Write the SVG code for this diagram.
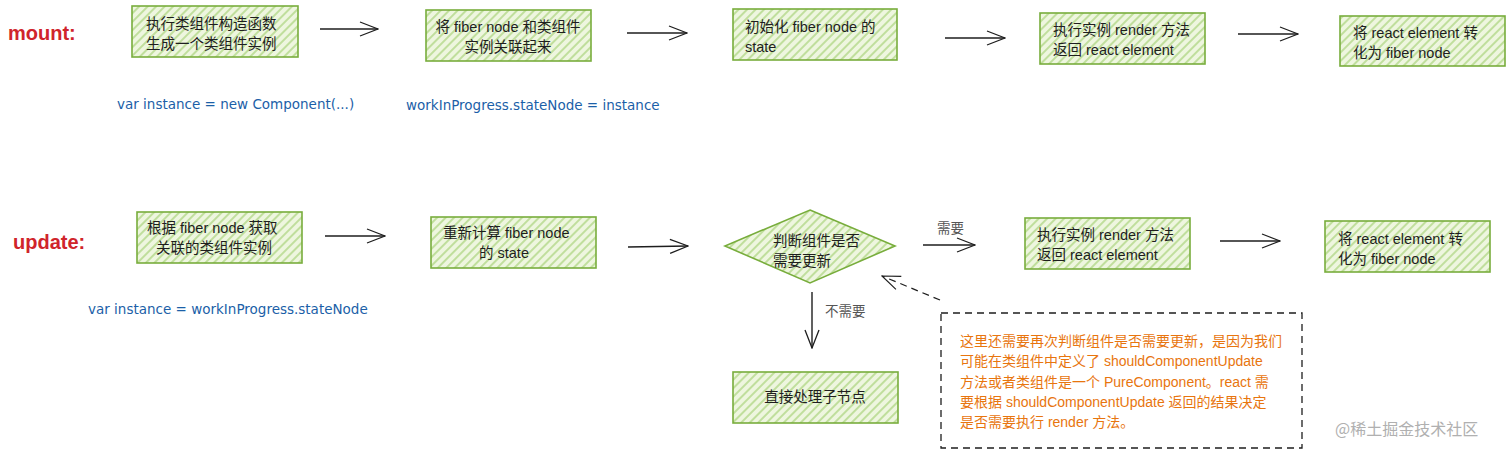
<svg xmlns="http://www.w3.org/2000/svg" width="1512" height="456" viewBox="0 0 1512 456">
<defs>
<pattern id="hatch" patternUnits="userSpaceOnUse" width="6" height="6" patternTransform="rotate(45)">
<rect width="6" height="6" fill="#eef6df"/>
<line x1="1" y1="0" x2="1" y2="6" stroke="#b5d98c" stroke-width="1.6"/>
</pattern>
<marker id="arr" viewBox="0 0 20 20" refX="19" refY="10" markerWidth="20" markerHeight="20" markerUnits="userSpaceOnUse" orient="auto">
<path d="M1 3 L19 10 L1 17" fill="none" stroke="#1e1e1e" stroke-width="1.3"/>
</marker>
<marker id="arrd" viewBox="0 0 20 20" refX="19" refY="10" markerWidth="20" markerHeight="20" markerUnits="userSpaceOnUse" orient="auto">
<path d="M1 3 L19 10 L1 17" fill="none" stroke="#1e1e1e" stroke-width="1.1"/>
</marker>
</defs>
<style>
.box{fill:url(#hatch);stroke:#78ad3c;stroke-width:1.6}
.t{font-family:"Liberation Sans","Noto Sans CJK SC",sans-serif;font-size:14.5px;fill:#1e1e1e}
.tc{text-anchor:middle}
.code{font-family:"DejaVu Sans","Noto Sans CJK SC",sans-serif;font-size:13.5px;fill:#1c5fa8}
.lab{font-family:"Liberation Sans","Noto Sans CJK SC",sans-serif;font-size:20px;fill:#d0242b;font-weight:bold}
.g{font-family:"Liberation Sans","Noto Sans CJK SC",sans-serif;font-size:13.5px;fill:#555}
.note{font-family:"Liberation Sans","Noto Sans CJK SC",sans-serif;font-size:14px;fill:#e8750e}
.conn{stroke:#1e1e1e;stroke-width:1.4;fill:none;marker-end:url(#arr)}
</style>
<rect width="1512" height="456" fill="#ffffff"/>

<text class="lab" x="8" y="40">mount:</text>
<text class="lab" x="13" y="249">update:</text>

<g id="n1"><rect class="box" x="132" y="6" width="166" height="51"/>
<text class="t" x="146" y="29">执行类组件构造函数</text><text class="t" x="146" y="49">生成一个类组件实例</text></g>
<g id="n2"><rect class="box" x="426" y="10" width="165" height="51"/>
<text class="t tc" x="508" y="32">将 fiber node 和类组件</text><text class="t tc" x="508" y="52">实例关联起来</text></g>
<g id="n3"><rect class="box" x="733" y="9" width="164" height="51"/>
<text class="t" x="745" y="32">初始化 fiber node 的</text><text class="t" x="745" y="52">state</text></g>
<g id="n4"><rect class="box" x="1040" y="13" width="165" height="51"/>
<text class="t" x="1053" y="35">执行实例 render 方法</text><text class="t" x="1053" y="55">返回 react element</text></g>
<g id="n5"><rect class="box" x="1340" y="16" width="165" height="50"/>
<text class="t" x="1353" y="38">将 react element 转</text><text class="t" x="1353" y="58">化为 fiber node</text></g>

<text class="code" x="117" y="109">var instance = new Component(...)</text>
<text class="code" x="406" y="110">workInProgress.stateNode = instance</text>
<text class="code" x="88" y="314">var instance = workInProgress.stateNode</text>

<g id="n6"><rect class="box" x="137" y="212" width="165" height="51"/>
<text class="t" x="147" y="233">根据 fiber node 获取</text><text class="t" x="156" y="253">关联的类组件实例</text></g>
<g id="n7"><rect class="box" x="431" y="217" width="165" height="51"/>
<text class="t" x="443" y="238">重新计算 fiber node</text><text class="t" x="479" y="258">的 state</text></g>
<g id="n8"><polygon class="box" points="810,210 895,246 810,283 725,246"/>
<text class="t" x="773" y="246">判断组件是否</text><text class="t" x="773" y="266">需要更新</text></g>
<g id="n9"><rect class="box" x="1025" y="218" width="165" height="51"/>
<text class="t" x="1037" y="240">执行实例 render 方法</text><text class="t" x="1037" y="260">返回 react element</text></g>
<g id="n10"><rect class="box" x="1325" y="221" width="165" height="51"/>
<text class="t" x="1338" y="244">将 react element 转</text><text class="t" x="1338" y="264">化为 fiber node</text></g>
<g id="n11"><rect class="box" x="733" y="372" width="165" height="51"/>
<text class="t tc" x="815" y="402">直接处理子节点</text></g>

<g id="note"><rect x="941" y="313" width="361" height="135" fill="none" stroke="#1e1e1e" stroke-width="1.3" stroke-dasharray="7,5"/>
<text class="note" x="960" y="346">这里还需要再次判断组件是否需要更新，是因为我们</text>
<text class="note" x="960" y="366">可能在类组件中定义了 shouldComponentUpdate</text>
<text class="note" x="960" y="387">方法或者类组件是一个 PureComponent。react 需</text>
<text class="note" x="960" y="407">要根据 shouldComponentUpdate 返回的结果决定</text>
<text class="note" x="960" y="427">是否需要执行 render 方法。</text></g>

<g id="connectors">
<line class="conn" x1="320" y1="29" x2="378" y2="29"/>
<line class="conn" x1="627" y1="33" x2="687" y2="33"/>
<line class="conn" x1="945" y1="38" x2="1005" y2="38"/>
<line class="conn" x1="1238" y1="34" x2="1298" y2="34"/>
<line class="conn" x1="325" y1="236" x2="385" y2="236"/>
<line class="conn" x1="628" y1="247" x2="688" y2="246"/>
<line class="conn" x1="923" y1="245" x2="975" y2="245"/>
<line class="conn" x1="1220" y1="241" x2="1280" y2="241"/>
<line class="conn" x1="812" y1="292" x2="812" y2="348"/>
<line x1="940" y1="300" x2="882" y2="276" stroke="#1e1e1e" stroke-width="1.2" stroke-dasharray="7,5" fill="none" marker-end="url(#arrd)"/>
<text class="g" x="937" y="233">需要</text>
<text class="g" x="825" y="316">不需要</text>
</g>

<text x="1335" y="435" font-family="'Noto Sans CJK SC',sans-serif" font-size="16" fill="#b0b0b0">@稀土掘金技术社区</text>
</svg>
